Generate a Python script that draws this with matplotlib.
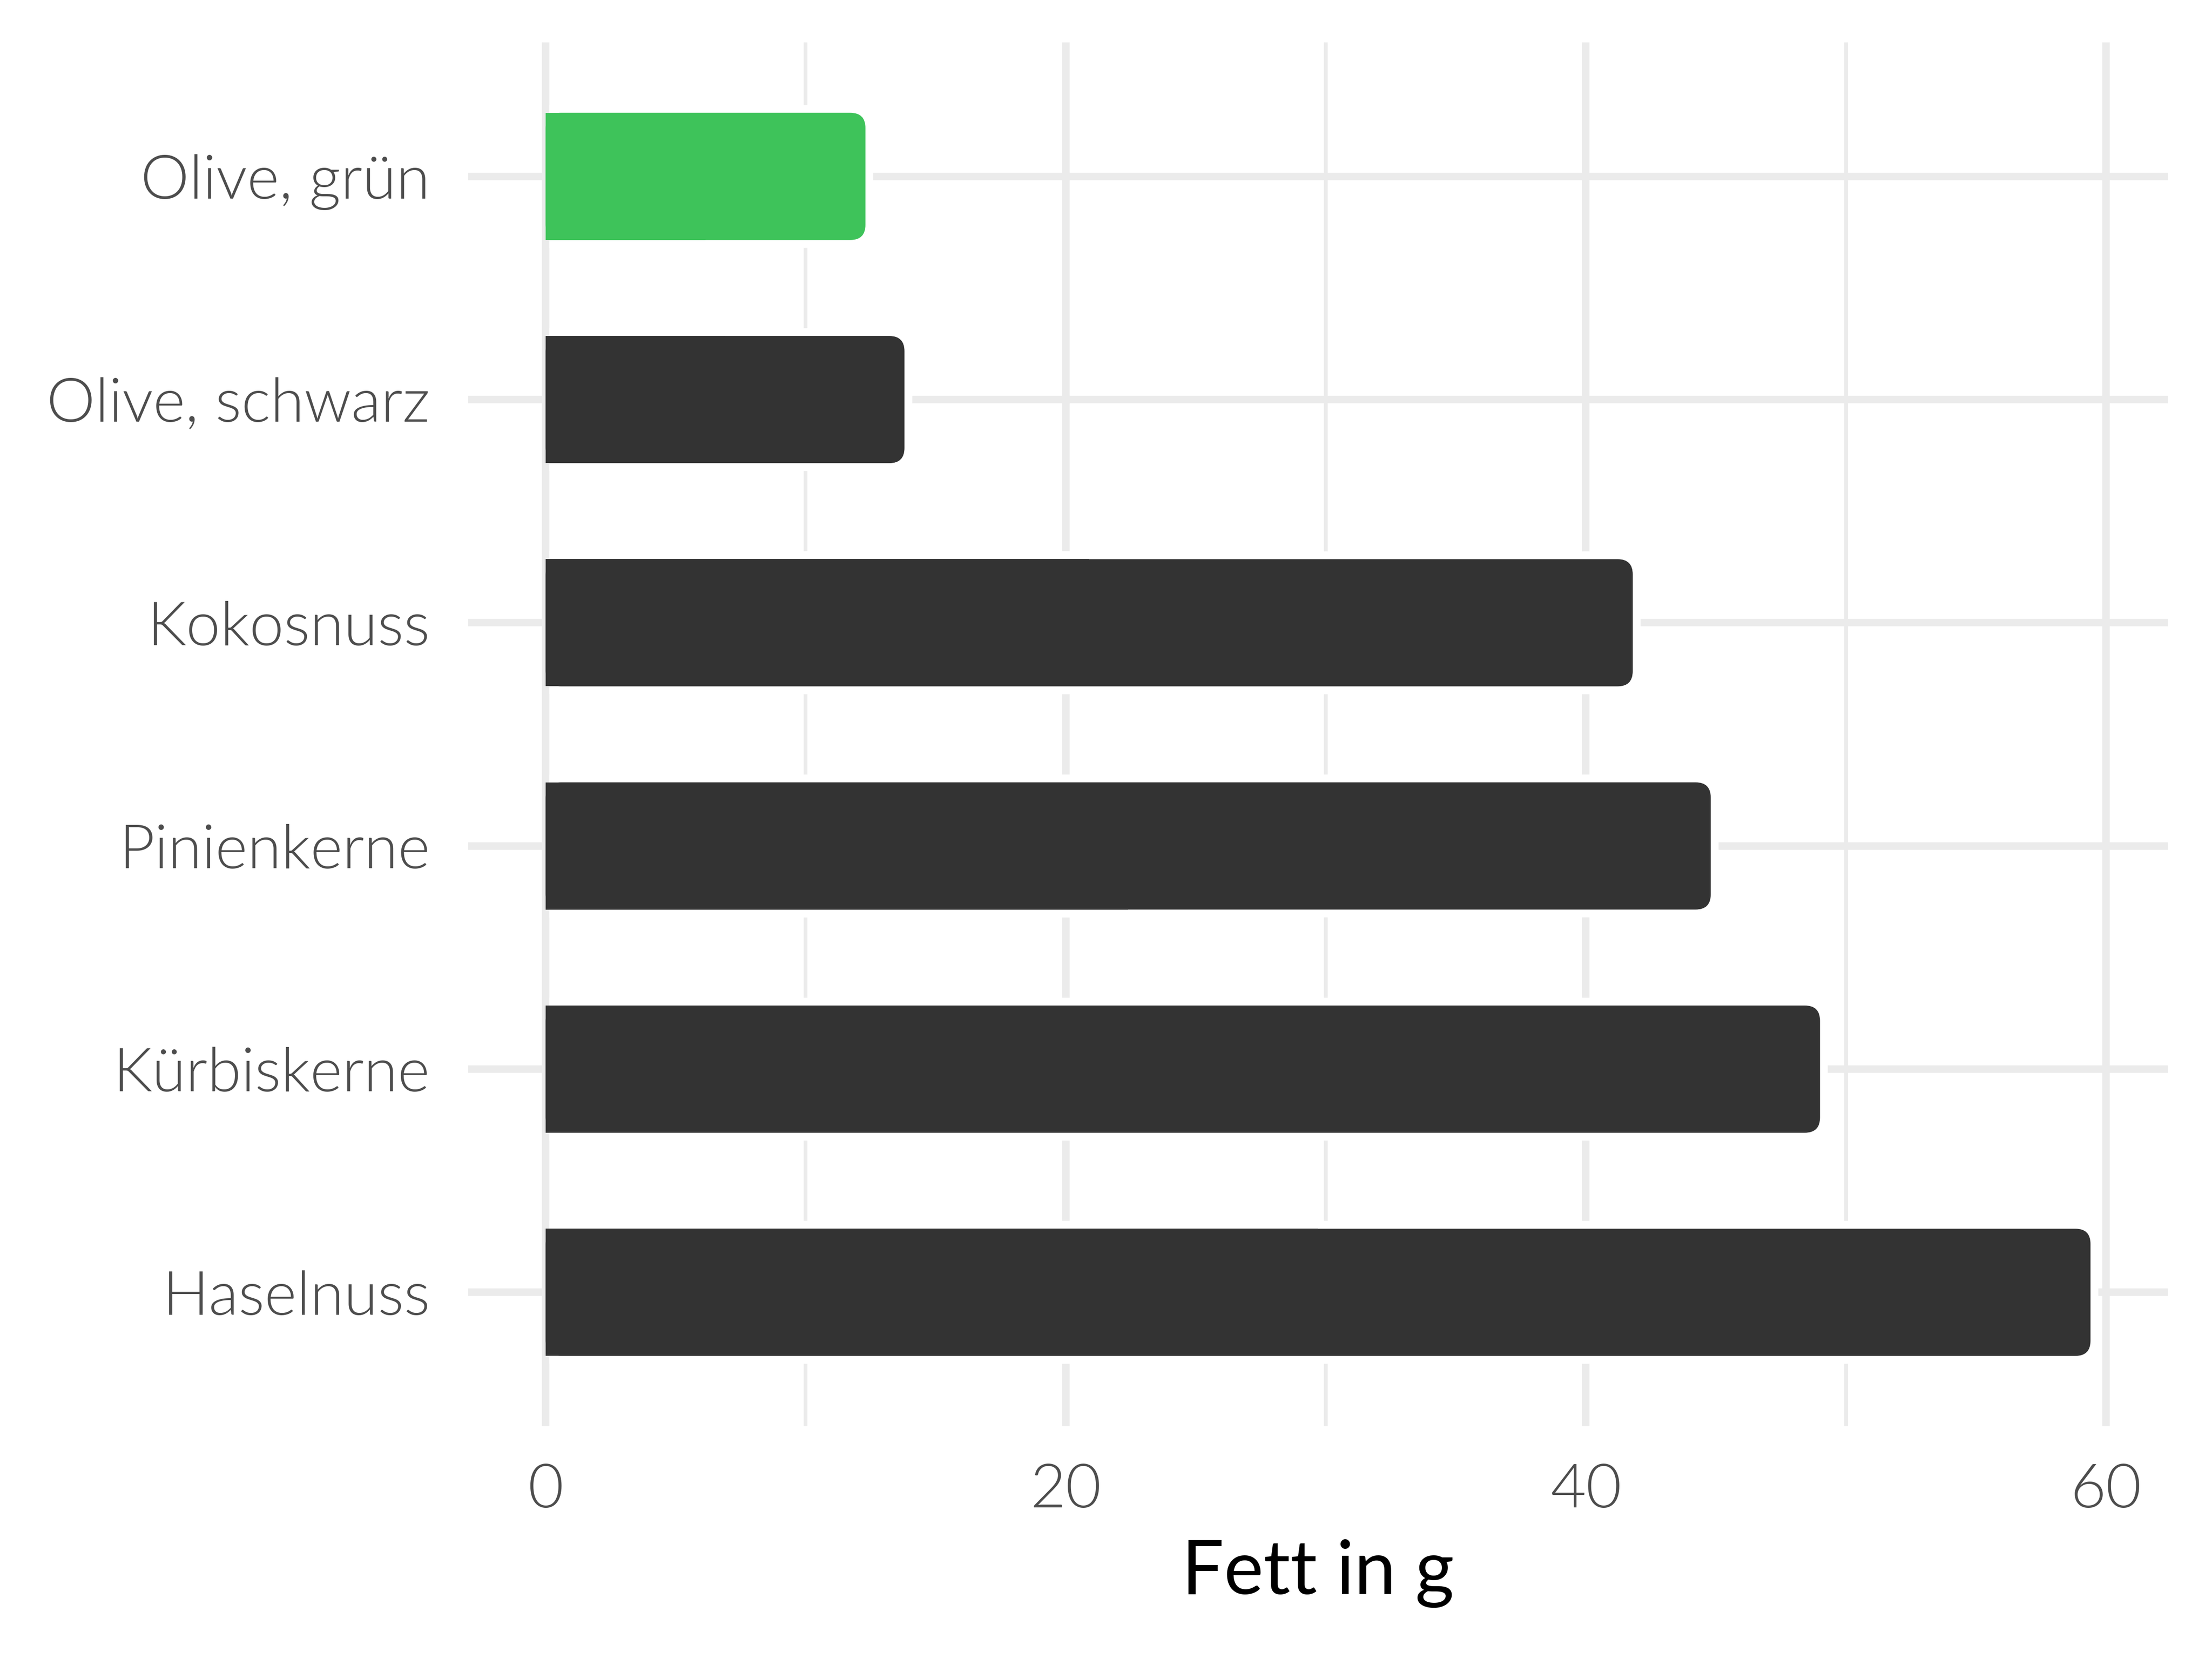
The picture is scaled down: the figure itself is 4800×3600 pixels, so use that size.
import numpy as np
import matplotlib
matplotlib.use('Agg')
import matplotlib.pyplot as plt
from matplotlib.patches import FancyBboxPatch, Rectangle
from matplotlib.ticker import MultipleLocator

# data, bottom to top
foods = ['Haselnuss', 'Kürbiskerne', 'Pinienkerne', 'Kokosnuss', 'Olive, schwarz', 'Olive, grün']
fett = [59.4, 49.0, 44.8, 41.8, 13.8, 12.3]
bar_colors = ['#333333', '#333333', '#333333', '#333333', '#333333', '#3EC35A']
xticks = [0, 20, 40, 60]
xlabel = 'Fett in g'

plt.rcParams['font.family'] = ['Lato', 'DejaVu Sans']

fig = plt.figure(figsize=(16, 12), dpi=300)
ax = fig.add_axes([0.2117, 0.1403, 0.7683, 0.8341])

top = max(fett)
ax.set_xlim(-0.05 * top, 1.05 * top)
ax.set_ylim(-0.6, len(foods) - 0.4)

# pixel sizes -> data units
p0 = ax.transData.transform((0, 0))
p1 = ax.transData.transform((1, 1))
pxx = p1[0] - p0[0]
pxy = p1[1] - p0[1]
aspect = pxx / pxy

h = 0.57
r_px = 33
gap_px = 17
grid_w = 3.9  # pt
gx = gap_px / pxx
gy = gap_px / pxy
x_start = (grid_w * 300 / 72 / 2) / pxx

for i, (v, c) in enumerate(zip(fett, bar_colors)):
    # white halo that cuts the grid lines around the bar
    wr = (r_px + gap_px) / pxx
    ax.add_patch(FancyBboxPatch((x_start, i - h / 2 - gy), v + gx - x_start, h + 2 * gy,
                                boxstyle=f'round,pad=0,rounding_size={wr}',
                                mutation_aspect=aspect, fc='white', ec='none', zorder=2))
    ax.add_patch(Rectangle((x_start, i - h / 2 - gy), (v + gx) / 2, h + 2 * gy,
                           fc='white', ec='none', zorder=2))
    # the bar itself, rounded only on the right
    rr = r_px / pxx
    ax.add_patch(FancyBboxPatch((0, i - h / 2), v, h,
                                boxstyle=f'round,pad=0,rounding_size={rr}',
                                mutation_aspect=aspect, fc=c, ec='none', zorder=3))
    ax.add_patch(Rectangle((0, i - h / 2), v / 2, h, fc=c, ec='none', zorder=3))

ax.set_yticks(range(len(foods)))
ax.set_yticklabels(foods)
ax.set_xticks(xticks)
ax.xaxis.set_minor_locator(MultipleLocator(10))

ax.set_axisbelow(True)
ax.grid(which='major', color='#EBEBEB', linewidth=grid_w)
ax.grid(which='minor', axis='x', color='#EBEBEB', linewidth=grid_w / 2)
for s in ax.spines.values():
    s.set_visible(False)

ax.tick_params(axis='both', which='both', length=0, labelsize=32, labelcolor='#4D4D4D')
ax.tick_params(axis='y', pad=20)
ax.tick_params(axis='x', pad=19)
for lab in ax.get_xticklabels() + ax.get_yticklabels():
    lab.set_fontweight(300)
ax.set_xlabel(xlabel, fontsize=39, color='black', labelpad=11, fontweight='normal')

fig.savefig('out.png', dpi=300, facecolor='white')
